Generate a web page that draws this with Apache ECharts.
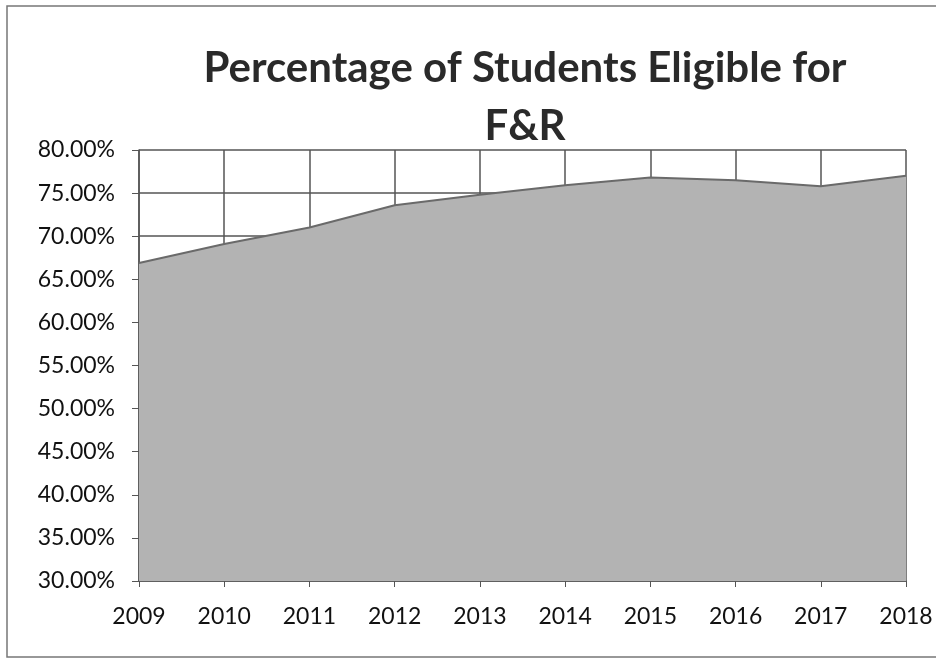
<!DOCTYPE html>
<html><head><meta charset="utf-8">
<script src="https://cdn.jsdelivr.net/npm/echarts@6/dist/echarts.min.js"></script>
<style>html,body{margin:0;padding:0;background:#fff}#c{width:936px;height:667px}</style>
</head><body><div id="c"></div>
<script>
const years = ['2009','2010','2011','2012','2013','2014','2015','2016','2017','2018'];
const pctEligible = [66.9, 69.1, 71.0, 73.6, 74.8, 75.9, 76.8, 76.5, 75.8, 77.0];
const yTicks = {min: 30, max: 80, step: 5};

const font = 'Lato, "Open Sans", sans-serif';
const chart = echarts.init(document.getElementById('c'));
chart.setOption({
  animation: false,
  backgroundColor: '#fff',
  title: {
    text: 'Percentage of Students Eligible for\nF&R',
    left: 520, top: 34, textAlign: 'center',
    textStyle: {fontFamily: font, fontSize: 42, fontWeight: 'bold', color: '#2a2a2a', lineHeight: 58}
  },
  graphic: [{
    type: 'rect', shape: {x: 7, y: 6, width: 940, height: 651},
    style: {fill: 'none', stroke: '#777', lineWidth: 1.5}, silent: true
  }],
  grid: {left: 139, right: 30, top: 150, bottom: 86, containLabel: false},
  xAxis: {
    type: 'category', data: years, boundaryGap: false,
    axisLine: {lineStyle: {color: '#555', width: 1.5}},
    axisTick: {show: true, length: 6, lineStyle: {color: '#555'}},
    axisLabel: {fontFamily: font, fontSize: 23, color: '#111', margin: 24},
    splitLine: {show: true, lineStyle: {color: '#555', width: 1.5}}
  },
  yAxis: {
    type: 'value', min: yTicks.min, max: yTicks.max, interval: yTicks.step,
    axisLine: {show: true, lineStyle: {color: '#555', width: 1.5}},
    axisTick: {show: true, length: 7, lineStyle: {color: '#555'}},
    axisLabel: {fontFamily: font, fontSize: 23, color: '#111', margin: 24,
      formatter: v => v.toFixed(2) + '%'},
    splitLine: {show: true, lineStyle: {color: '#555', width: 1.5}}
  },
  series: [{
    type: 'line', data: pctEligible, symbol: 'none',
    lineStyle: {color: '#6a6a6a', width: 2},
    areaStyle: {color: '#b3b3b3', opacity: 1, origin: 'start'},
    z: 3
  }]
});
</script></body></html>
